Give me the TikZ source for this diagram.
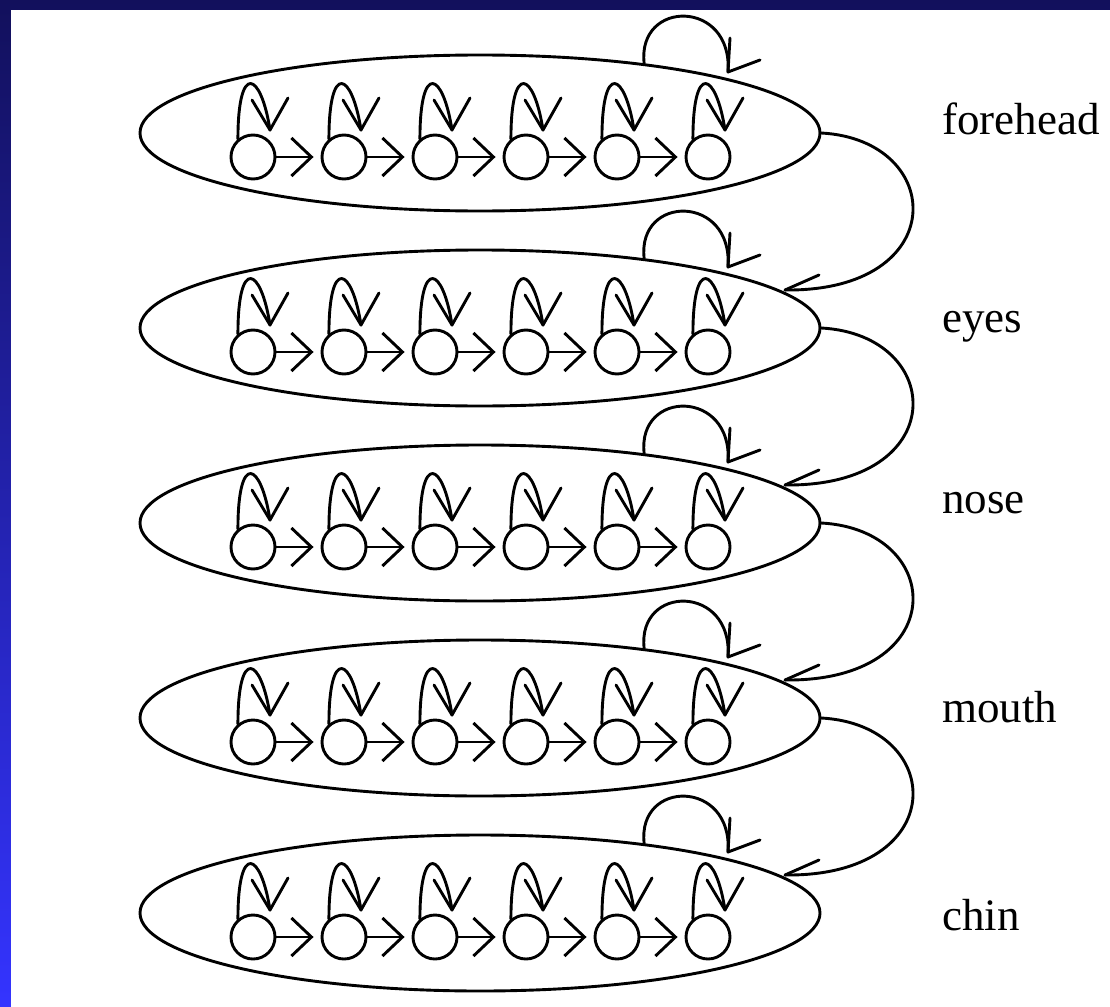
\documentclass[tikz,border=0pt]{standalone}
\usepackage{fontspec}
\setmainfont{Liberation Serif}
\newfontfamily\bandfont{Liberation Serif}
\usetikzlibrary{shapes.geometric,arrows.meta,calc}
\definecolor{slidetop}{RGB}{18,16,92}
\definecolor{slidebottom}{RGB}{52,52,255}
\begin{document}
\begin{tikzpicture}[x=1pt,y=-1pt,
  stroke/.style={line width=2.9pt, line cap=round, line join=round},
  region/.style={ellipse, draw, stroke, minimum width=680pt, minimum height=156pt, inner sep=0pt},
  state/.style={circle, draw, stroke, minimum size=44pt, inner sep=0pt},
  trans/.style={stroke, -{Straight Barb[length=20pt,width=38pt]}, shorten >=7pt},
  lbl/.style={anchor=base west, inner sep=0pt, font=\bandfont\fontsize{45}{54}\selectfont},
]
\useasboundingbox (0,0) rectangle (1110,1006);
% slide frame
\shade[top color=slidetop, bottom color=slidebottom] (0,0) rectangle (1110,1006);
\fill[white] (11,10) rectangle (1120,1016);

% one region per facial band, each a left-to-right chain of six states
\foreach \name/\cy/\base [count=\r] in {forehead/133/135, eyes/328/332, nose/523/513, mouth/718/722, chin/913/930} {
  \node[region] (e\r) at (480,\cy) {};
  \foreach \k in {1,...,6} {
    \node[state] (c\r-\k) at ({253+91*(\k-1)}, {\cy+24}) {};
    % self transition of the state
    \coordinate (h\r-\k) at ($(c\r-\k)+(17,-27)$);
    \draw[stroke] (c\r-\k.130) .. controls +(0,-78) and +(-9,-58) .. (h\r-\k);
    \draw[stroke] ($(h\r-\k)+(-18,-30)$) -- (h\r-\k) -- ++(18,-32);
  }
  \foreach \k [evaluate=\k as \kk using int(\k+1)] in {1,...,5} {
    \draw[trans] (c\r-\k) -- (c\r-\kk);
  }
  % self transition of the region
  \coordinate (l\r) at ($(e\r.center)+(248,-61)$);
  \draw[stroke] (e\r.23) .. controls ($(e\r.center)+(157,-134)$) and ($(e\r.center)+(253,-134)$) .. (l\r);
  \draw[stroke] ($(l\r)+(2,-34)$) -- (l\r) -- ++(32,-12);
  \node[lbl] (t\r) at (942,\base) {\name};
}

% transitions from each region to the next one down
\foreach \r [evaluate=\r as \nx using int(\r+1)] in {1,...,4} {
  \coordinate (m\r) at ($(e\nx.center)+(305,-38)$);
  \draw[stroke] (e\r.east) .. controls +(125,7) and +(167,2) .. (m\r);
  \draw[stroke] ($(m\r)+(34,-15)$) -- (m\r);
}
\end{tikzpicture}
\end{document}
